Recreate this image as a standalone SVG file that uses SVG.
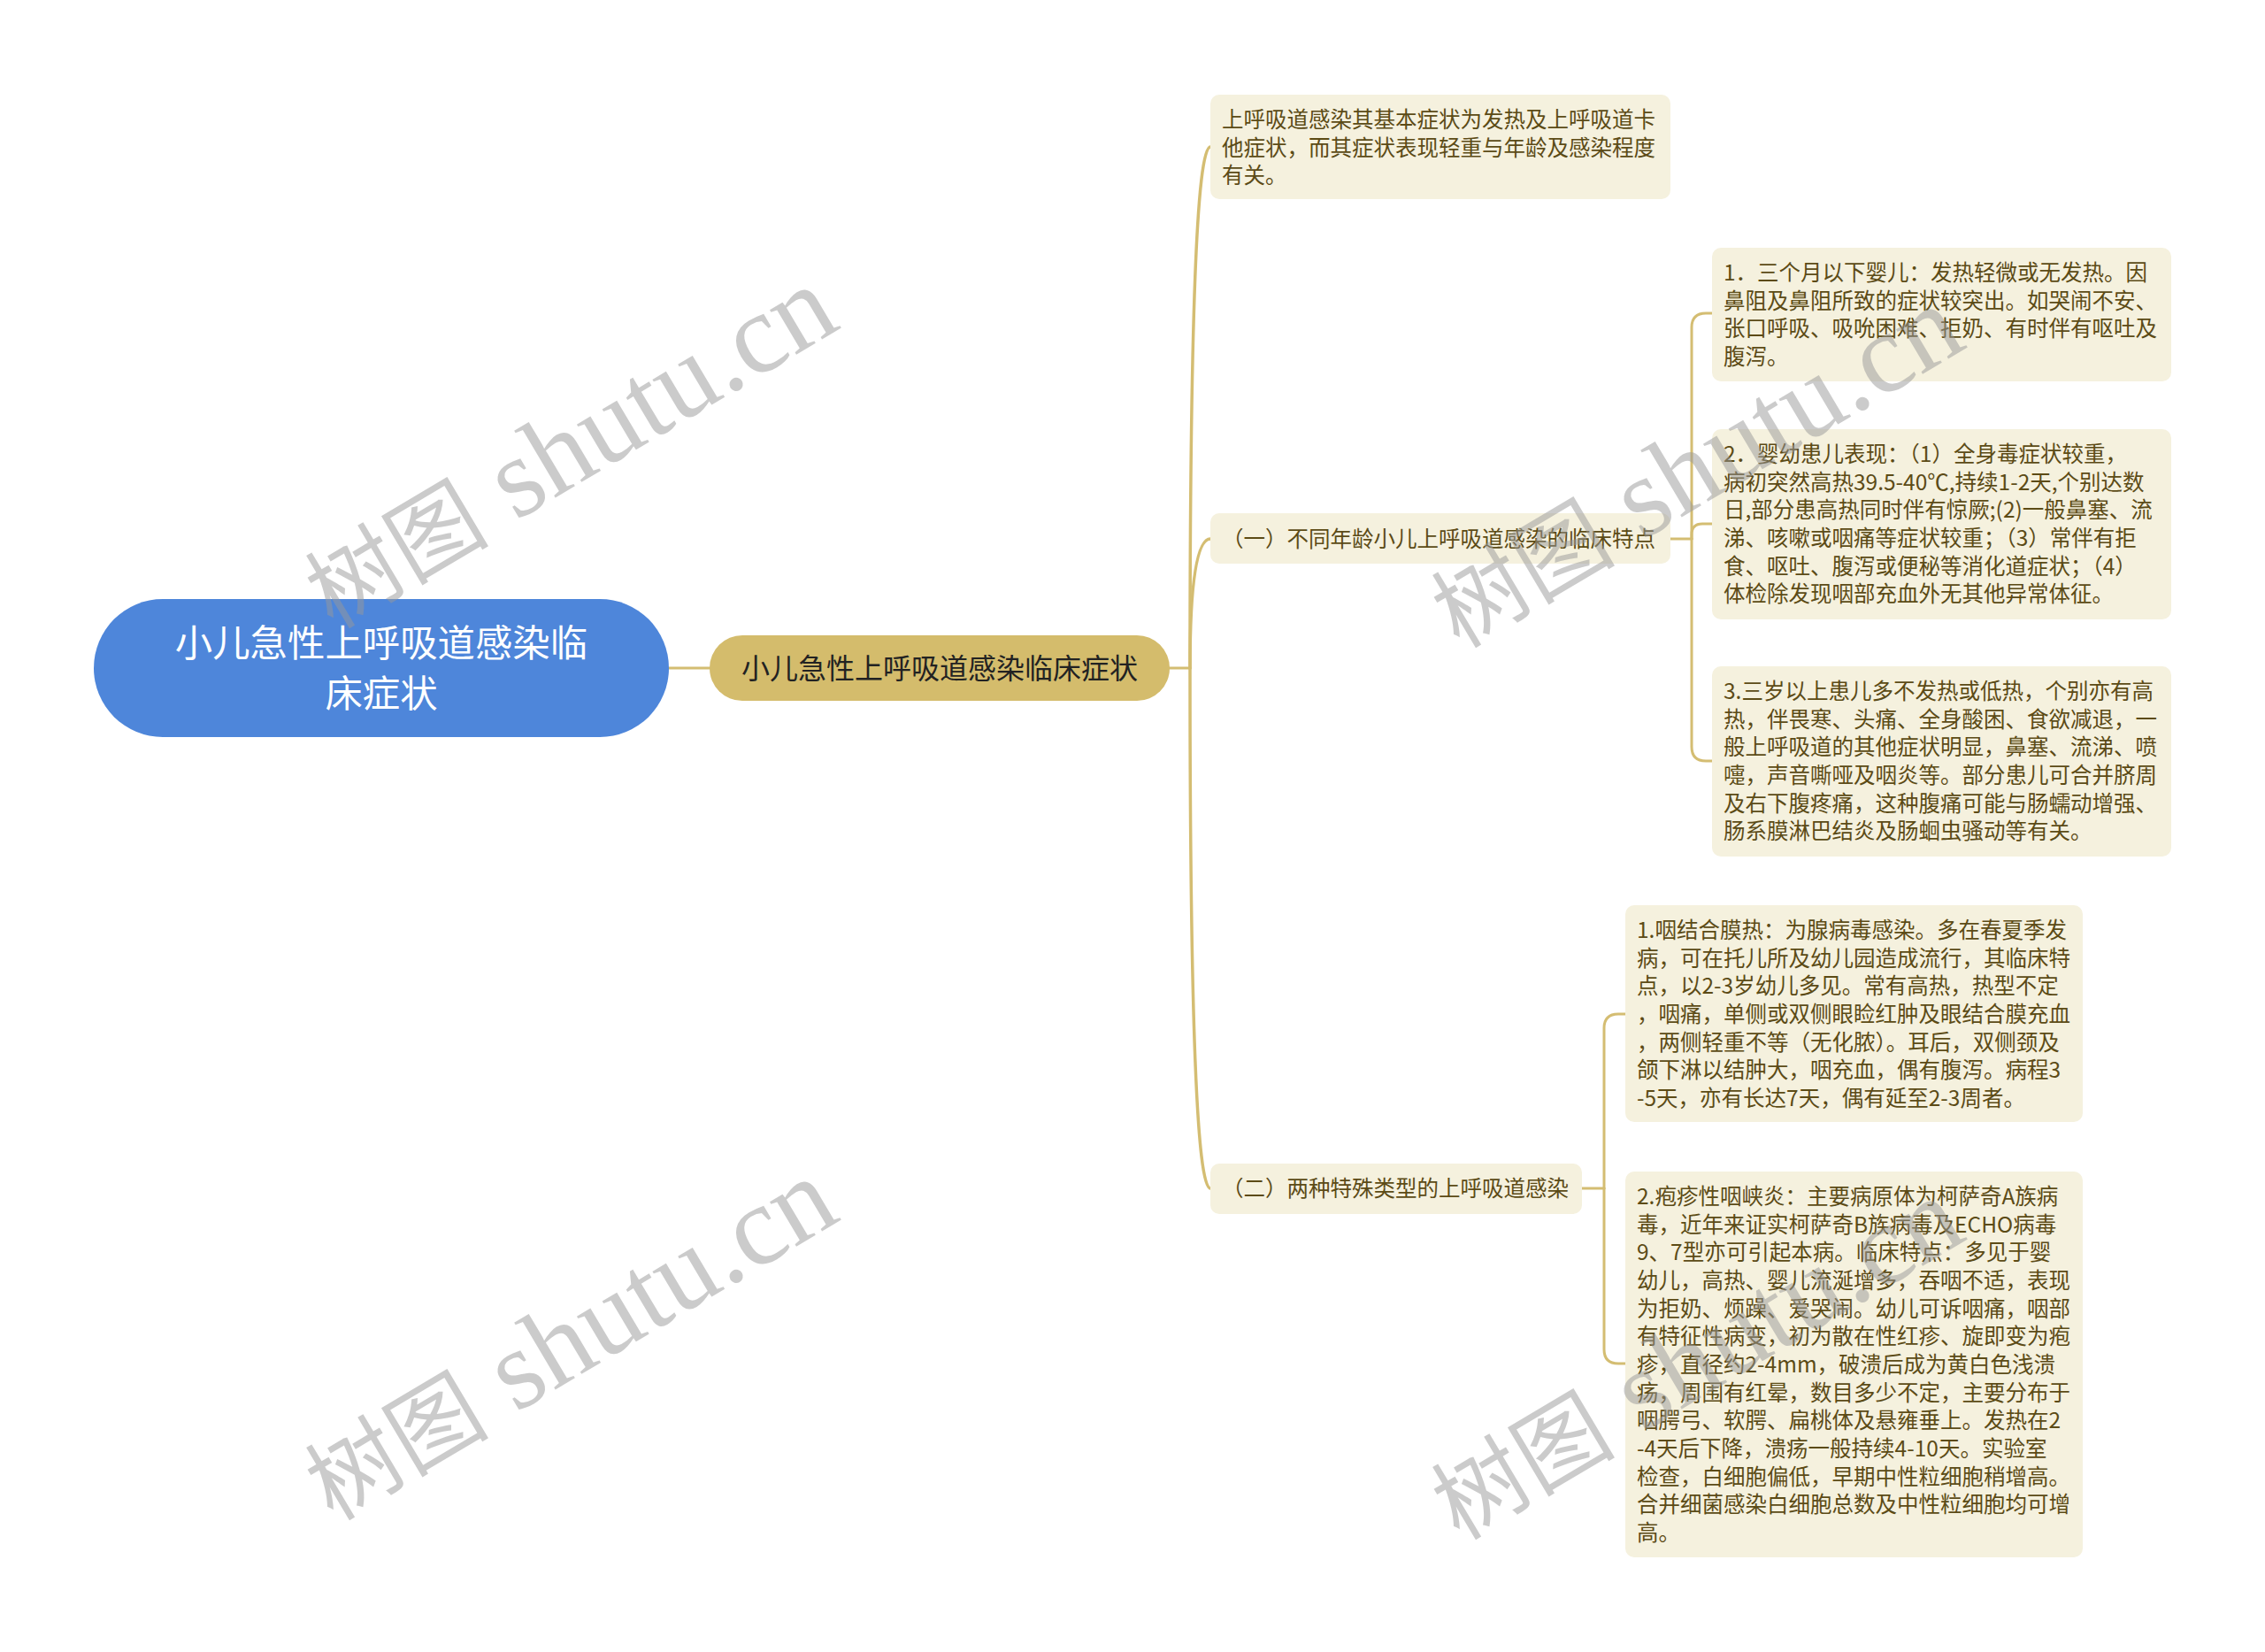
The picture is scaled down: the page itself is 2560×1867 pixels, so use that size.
<svg xmlns="http://www.w3.org/2000/svg" width="2560" height="1867" viewBox="0 0 2560 1867">
<style>
.leaf{fill:#f5f1de;}
.lt{font-family:"Noto Sans CJK SC","Noto Sans",sans-serif;font-size:24.5px;fill:#5c4b16;}
.conn{fill:none;stroke:#d4bd72;stroke-width:3;stroke-linecap:round;}
.trunk{fill:none;stroke:#d4bd72;stroke-width:3.5;stroke-linecap:round;}
.wm{fill:#999;opacity:0.5;}
</style>
<rect width="2560" height="1867" fill="#ffffff"/>
<g id="connectors">
<path class="conn" d="M756,755 H802"/>
<path class="conn" d="M1322,755 H1345"/>
<path class="trunk" d="M1345,755 Q1345,166 1368,166"/>
<path class="trunk" d="M1345,755 Q1345,609 1368,609"/>
<path class="trunk" d="M1345,755 Q1345,1343 1368,1343"/>
<path class="conn" d="M1888,609 H1912"/>
<path class="conn" d="M1912,609 V370 Q1912,354 1928,354 H1935"/>
<path class="conn" d="M1912,609 V604 Q1912,592 1924,592 H1935"/>
<path class="conn" d="M1912,609 V844 Q1912,860 1928,860 H1935"/>
<path class="conn" d="M1788,1343 H1813"/>
<path class="conn" d="M1813,1343 V1162 Q1813,1146 1829,1146 H1837"/>
<path class="conn" d="M1813,1343 V1525 Q1813,1541 1829,1541 H1837"/>
</g>
<g id="root">
<rect x="106" y="677" width="650" height="156" rx="78" fill="#4e86da"/>
<text x="431" y="742" text-anchor="middle" font-family="Noto Sans CJK SC, sans-serif" font-size="42.4" fill="#ffffff">小儿急性上呼吸道感染临</text>
<text x="431" y="799" text-anchor="middle" font-family="Noto Sans CJK SC, sans-serif" font-size="42.4" fill="#ffffff">床症状</text>
</g>
<g id="main">
<rect x="802" y="718" width="520" height="74" rx="37" fill="#d4bc6c"/>
<text x="1062" y="766.5" text-anchor="middle" font-family="Noto Sans CJK SC, sans-serif" font-size="32" fill="#222222">小儿急性上呼吸道感染临床症状</text>
</g>
<g id="nodeA">
<rect class="leaf" x="1368" y="107" width="520" height="118" rx="10"/>
<text class="lt"><tspan x="1381" y="144">上呼吸道感染其基本症状为发热及上呼吸道卡</tspan><tspan x="1381" y="175.7">他症状，而其症状表现轻重与年龄及感染程度</tspan><tspan x="1381" y="207.4">有关。</tspan></text>
</g>
<g id="nodeB">
<rect class="leaf" x="1368" y="580" width="520" height="57" rx="10"/>
<text class="lt" x="1381" y="617.5">（一）不同年龄小儿上呼吸道感染的临床特点</text>
</g>
<g id="nodeC">
<rect class="leaf" x="1368" y="1315" width="420" height="57" rx="10"/>
<text class="lt" x="1381" y="1352">（二）两种特殊类型的上呼吸道感染</text>
</g>
<g id="nodeB1">
<rect class="leaf" x="1935" y="280" width="519" height="151" rx="10"/>
<text class="lt"><tspan x="1948" y="317">1．三个月以下婴儿：发热轻微或无发热。因</tspan><tspan x="1948" y="348.7">鼻阻及鼻阻所致的症状较突出。如哭闹不安、</tspan><tspan x="1948" y="380.4">张口呼吸、吸吮困难、拒奶、有时伴有呕吐及</tspan><tspan x="1948" y="412">腹泻。</tspan></text>
</g>
<g id="nodeB2">
<rect class="leaf" x="1935" y="485" width="519" height="215" rx="10"/>
<text class="lt"><tspan x="1948" y="522">2．婴幼患儿表现：（1）全身毒症状较重，</tspan><tspan x="1948" y="553.7">病初突然高热39.5-40℃,持续1-2天,个别达数</tspan><tspan x="1948" y="585.4">日,部分患高热同时伴有惊厥;(2)一般鼻塞、流</tspan><tspan x="1948" y="617">涕、咳嗽或咽痛等症状较重；（3）常伴有拒</tspan><tspan x="1948" y="648.7">食、呕吐、腹泻或便秘等消化道症状；（4）</tspan><tspan x="1948" y="680.4">体检除发现咽部充血外无其他异常体征。</tspan></text>
</g>
<g id="nodeB3">
<rect class="leaf" x="1935" y="753" width="519" height="215" rx="10"/>
<text class="lt"><tspan x="1948" y="790">3.三岁以上患儿多不发热或低热，个别亦有高</tspan><tspan x="1948" y="821.7">热，伴畏寒、头痛、全身酸困、食欲减退，一</tspan><tspan x="1948" y="853.4">般上呼吸道的其他症状明显，鼻塞、流涕、喷</tspan><tspan x="1948" y="885">嚏，声音嘶哑及咽炎等。部分患儿可合并脐周</tspan><tspan x="1948" y="916.7">及右下腹疼痛，这种腹痛可能与肠蠕动增强、</tspan><tspan x="1948" y="948.4">肠系膜淋巴结炎及肠蛔虫骚动等有关。</tspan></text>
</g>
<g id="nodeC1">
<rect class="leaf" x="1837" y="1023" width="517" height="245" rx="10"/>
<text class="lt"><tspan x="1850" y="1060">1.咽结合膜热：为腺病毒感染。多在春夏季发</tspan><tspan x="1850" y="1091.7">病，可在托儿所及幼儿园造成流行，其临床特</tspan><tspan x="1850" y="1123.4">点，以2-3岁幼儿多见。常有高热，热型不定</tspan><tspan x="1850" y="1155">，咽痛，单侧或双侧眼睑红肿及眼结合膜充血</tspan><tspan x="1850" y="1186.7">，两侧轻重不等（无化脓）。耳后，双侧颈及</tspan><tspan x="1850" y="1218.4">颌下淋以结肿大，咽充血，偶有腹泻。病程3</tspan><tspan x="1850" y="1250">-5天，亦有长达7天，偶有延至2-3周者。</tspan></text>
</g>
<g id="nodeC2">
<rect class="leaf" x="1837" y="1324" width="517" height="436" rx="10"/>
<text class="lt"><tspan x="1850" y="1361">2.疱疹性咽峡炎：主要病原体为柯萨奇A族病</tspan><tspan x="1850" y="1392.7">毒，近年来证实柯萨奇B族病毒及ECHO病毒</tspan><tspan x="1850" y="1424.4">9、7型亦可引起本病。临床特点：多见于婴</tspan><tspan x="1850" y="1456">幼儿，高热、婴儿流涎增多，吞咽不适，表现</tspan><tspan x="1850" y="1487.7">为拒奶、烦躁、爱哭闹。幼儿可诉咽痛，咽部</tspan><tspan x="1850" y="1519.4">有特征性病变，初为散在性红疹、旋即变为疱</tspan><tspan x="1850" y="1551">疹，直径约2-4mm，破溃后成为黄白色浅溃</tspan><tspan x="1850" y="1582.7">疡，周围有红晕，数目多少不定，主要分布于</tspan><tspan x="1850" y="1614.4">咽腭弓、软腭、扁桃体及悬雍垂上。发热在2</tspan><tspan x="1850" y="1646">-4天后下降，溃疡一般持续4-10天。实验室</tspan><tspan x="1850" y="1677.7">检查，白细胞偏低，早期中性粒细胞稍增高。</tspan><tspan x="1850" y="1709.4">合并细菌感染白细胞总数及中性粒细胞均可增</tspan><tspan x="1850" y="1741">高。</tspan></text>
</g>
<g id="watermarks">
<text class="wm" text-anchor="middle" transform="translate(645,508) rotate(-30.7) translate(0,38)"><tspan font-family="Noto Sans CJK SC, sans-serif" font-size="104">树图</tspan><tspan font-family="Liberation Serif, serif" font-size="128"> shutu.cn</tspan></text>
<text class="wm" text-anchor="middle" transform="translate(645,1516) rotate(-30.7) translate(0,38)"><tspan font-family="Noto Sans CJK SC, sans-serif" font-size="104">树图</tspan><tspan font-family="Liberation Serif, serif" font-size="128"> shutu.cn</tspan></text>
<text class="wm" text-anchor="middle" transform="translate(1918,530) rotate(-30.7) translate(0,38)"><tspan font-family="Noto Sans CJK SC, sans-serif" font-size="104">树图</tspan><tspan font-family="Liberation Serif, serif" font-size="128"> shutu.cn</tspan></text>
<text class="wm" text-anchor="middle" transform="translate(1918,1538) rotate(-30.7) translate(0,38)"><tspan font-family="Noto Sans CJK SC, sans-serif" font-size="104">树图</tspan><tspan font-family="Liberation Serif, serif" font-size="128"> shutu.cn</tspan></text>
</g>
</svg>
